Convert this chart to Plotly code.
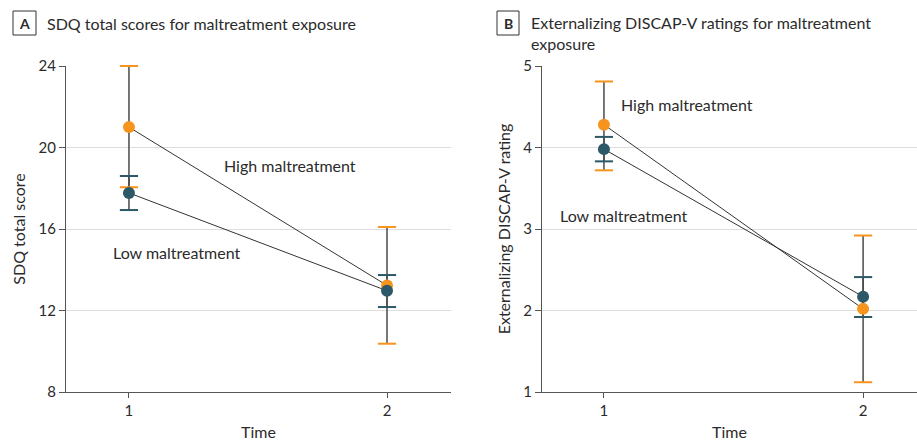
import plotly.graph_objects as go

# Study time points
time = [1, 2]

# Panel A: SDQ total scores (mean with 95% CI bounds)
sdq_high = [21.0, 13.23]
sdq_high_lo = [18.05, 10.37]
sdq_high_hi = [24.0, 16.1]
sdq_low = [17.77, 12.97]
sdq_low_lo = [16.93, 12.17]
sdq_low_hi = [18.6, 13.74]

# Panel B: Externalizing DISCAP-V ratings (mean with 95% CI bounds)
disc_high = [4.28, 2.02]
disc_high_lo = [3.72, 1.12]
disc_high_hi = [4.81, 2.92]
disc_low = [3.98, 2.17]
disc_low_lo = [3.83, 1.92]
disc_low_hi = [4.13, 2.41]

sdq_ticks = [8, 12, 16, 20, 24]
disc_ticks = [1, 2, 3, 4, 5]

ORANGE = "#F7941E"
TEAL = "#2D5867"
LINE = "#333333"
STEM = "#4a4a4a"
TEXT = "#2b2b2b"
FONT = "Lato"
FS = 16

W, H = 917, 442

fig = go.Figure()


def add_series(xa, ya, mean, lo, hi):
    plus = [h - m for h, m in zip(hi, mean)]
    minus = [m - l for m, l in zip(mean, lo)]
    # connecting line
    fig.add_trace(go.Scatter(x=time, y=mean, mode="lines", xaxis=xa, yaxis=ya,
                             line=dict(color=LINE, width=1), hoverinfo="skip",
                             showlegend=False))
    # CI stem
    fig.add_trace(go.Scatter(x=time, y=mean, mode="none", xaxis=xa, yaxis=ya,
                             error_y=dict(type="data", symmetric=False, array=plus,
                                          arrayminus=minus, color=STEM,
                                          thickness=1.5, width=0),
                             cliponaxis=False, hoverinfo="skip", showlegend=False))


def add_caps(xa, ya, lo, hi, color):
    fig.add_trace(go.Scatter(x=time + time, y=lo + hi, mode="markers",
                             xaxis=xa, yaxis=ya, cliponaxis=False,
                             marker=dict(symbol="line-ew", size=13,
                                         line=dict(color=color, width=2)),
                             hoverinfo="skip", showlegend=False))


def add_points(xa, ya, mean, color):
    fig.add_trace(go.Scatter(x=time, y=mean, mode="markers", xaxis=xa, yaxis=ya,
                             marker=dict(color=color, size=12, line=dict(width=0)),
                             cliponaxis=False, showlegend=False))


# Panel A
add_series("x", "y", sdq_high, sdq_high_lo, sdq_high_hi)
add_series("x", "y", sdq_low, sdq_low_lo, sdq_low_hi)
add_caps("x", "y", sdq_high_lo, sdq_high_hi, ORANGE)
add_caps("x", "y", sdq_low_lo, sdq_low_hi, TEAL)
add_points("x", "y", sdq_high, ORANGE)
add_points("x", "y", sdq_low, TEAL)

# Panel B
add_series("x2", "y2", disc_high, disc_high_lo, disc_high_hi)
add_series("x2", "y2", disc_low, disc_low_lo, disc_low_hi)
add_caps("x2", "y2", disc_high_lo, disc_high_hi, ORANGE)
add_caps("x2", "y2", disc_low_lo, disc_low_hi, TEAL)
add_points("x2", "y2", disc_high, ORANGE)
add_points("x2", "y2", disc_low, TEAL)

ydom = [(H - 392) / H, (H - 66) / H]

xaxis_common = dict(tickvals=time, ticks="outside", ticklen=5, tickcolor="#555",
                    showline=True, linecolor="#555", linewidth=1, showgrid=False,
                    zeroline=False, automargin=False,
                    tickfont=dict(size=15, color=TEXT, family=FONT),
                    title=dict(text="Time", font=dict(size=FS, color=TEXT, family=FONT),
                               standoff=8),
                    fixedrange=True)
yaxis_common = dict(ticks="outside", ticklen=6, tickcolor="#555",
                    showline=True, linecolor="#555", linewidth=1, automargin=False,
                    showgrid=True, gridcolor="#dddddd", gridwidth=1, zeroline=False,
                    tickfont=dict(size=15, color=TEXT, family=FONT), fixedrange=True)

fig.update_layout(
    width=W, height=H,
    margin=dict(l=0, r=0, t=0, b=0),
    paper_bgcolor="white", plot_bgcolor="white",
    font=dict(family=FONT, color=TEXT),
    xaxis=dict(domain=[66 / W, 451 / W], range=[0.756, 2.248], anchor="y", **xaxis_common),
    yaxis=dict(domain=ydom, range=[8, 24], tickvals=sdq_ticks, anchor="x",
               title=dict(text="SDQ total score", font=dict(size=FS, color=TEXT, family=FONT),
                          standoff=8),
               **yaxis_common),
    xaxis2=dict(domain=[542 / W, 1.0], range=[0.761, 2.208], anchor="y2", **xaxis_common),
    yaxis2=dict(domain=ydom, range=[1, 5], tickvals=disc_ticks, anchor="x2",
                title=dict(text="Externalizing DISCAP-V rating",
                           font=dict(size=FS, color=TEXT, family=FONT), standoff=8),
                **yaxis_common),
)

# Panel letter boxes
for x0, x1 in [(13, 36), (497, 519)]:
    fig.add_shape(type="rect", xref="paper", yref="paper",
                  x0=x0 / W, x1=x1 / W, y0=(H - 35) / H, y1=(H - 11) / H,
                  line=dict(color="#333", width=1), fillcolor="white")
fig.add_annotation(text="<b>A</b>", xref="paper", yref="paper", x=24.5 / W, y=(H - 23) / H,
                   showarrow=False, font=dict(size=14, color=TEXT, family=FONT),
                   xanchor="center", yanchor="middle")
fig.add_annotation(text="<b>B</b>", xref="paper", yref="paper", x=508 / W, y=(H - 23) / H,
                   showarrow=False, font=dict(size=14, color=TEXT, family=FONT),
                   xanchor="center", yanchor="middle")

# Panel titles
fig.add_annotation(text="SDQ total scores for maltreatment exposure", xref="paper", yref="paper",
                   x=45 / W, y=(H - 23) / H, xanchor="left", yanchor="middle",
                   showarrow=False, font=dict(size=FS, color=TEXT, family=FONT))
fig.add_annotation(text="Externalizing DISCAP-V ratings for maltreatment<br>exposure",
                   xref="paper", yref="paper", align="left",
                   x=529 / W, y=(H - 11) / H, xanchor="left", yanchor="top",
                   showarrow=False, font=dict(size=FS, color=TEXT, family=FONT))

# Group labels
labels = [
    ("x", "y", 1.36, 19.14, "High maltreatment"),
    ("x", "y", 0.93, 14.87, "Low maltreatment"),
    ("x2", "y2", 1.058, 4.53, "High maltreatment"),
    ("x2", "y2", 0.822, 3.17, "Low maltreatment"),
]
for xr, yr, x, y, t in labels:
    fig.add_annotation(text=t, xref=xr, yref=yr, x=x, y=y, xanchor="left", yanchor="middle",
                       showarrow=False, font=dict(size=FS, color=TEXT, family=FONT))

fig.write_html("out.html")
